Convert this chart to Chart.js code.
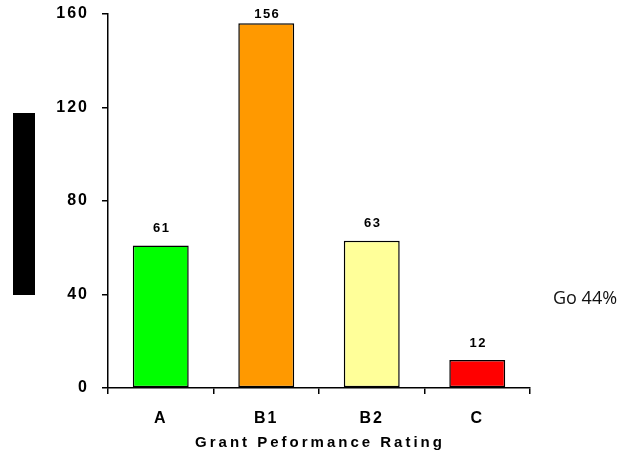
<!DOCTYPE html>
<html>
<head>
<meta charset="utf-8">
<script src="https://cdn.jsdelivr.net/npm/chart.js@4/dist/chart.umd.min.js"></script>
<style>
  html, body { margin: 0; padding: 0; background: #fff; }
  #wrap { position: relative; width: 617px; height: 458px; }
  #hidden-title { position: absolute; left: 13px; top: 113px; width: 22px; height: 182px; background: #000; }
  #note { position: absolute; left: 553px; top: 288px; font: 18px/18px "Open Sans", sans-serif; color: #111; white-space: nowrap; }
</style>
</head>
<body>
<div id="wrap">
  <canvas id="chart" width="617" height="458"></canvas>
  <div id="hidden-title"></div>
  <div id="note">Go 44%</div>
</div>
<script>
// ── DATA ───────────────────────────────────────────────────────
const categories = ['A', 'B1', 'B2', 'C'];
const counts = [61, 156, 63, 12];
const barColors = ['#00ff00', '#ff9900', '#ffff99', '#ff0000'];
const yTicks = [0, 40, 80, 120, 160];
const xTitle = 'Grant Peformance Rating';

const FONT = "'Liberation Sans', Arial, sans-serif";

// letter spacing for the axis tick labels
const spacingPlugin = {
  id: 'spacing',
  beforeDraw(chart) { chart.ctx.letterSpacing = '2px'; },
};

// value labels above each bar
const valueLabels = {
  id: 'valueLabels',
  afterDatasetsDraw(chart) {
    const { ctx, chartArea } = chart;
    const meta = chart.getDatasetMeta(0);
    ctx.save();
    ctx.letterSpacing = '1.5px';
    ctx.font = `bold 13px ${FONT}`;
    ctx.fillStyle = '#000';
    ctx.textAlign = 'center';
    ctx.textBaseline = 'middle';
    meta.data.forEach((bar, i) => {
      const y = Math.max(bar.y - 17, chartArea.top);
      ctx.fillText(String(counts[i]), bar.x + 1, y);
    });
    ctx.restore();
  },
};

// x axis title, wider tracking than the ticks
const xTitlePlugin = {
  id: 'xTitle',
  afterDraw(chart) {
    const { ctx, chartArea } = chart;
    ctx.save();
    ctx.letterSpacing = '3px';
    ctx.font = `bold 15px ${FONT}`;
    ctx.fillStyle = '#000';
    ctx.textAlign = 'center';
    ctx.textBaseline = 'middle';
    ctx.fillText(xTitle, (chartArea.left + chartArea.right) / 2 + 1, 443);
    ctx.restore();
  },
};

new Chart(document.getElementById('chart'), {
  type: 'bar',
  data: {
    labels: categories,
    datasets: [{
      data: counts,
      backgroundColor: barColors,
      borderColor: '#000',
      borderWidth: 1.5,
      borderSkipped: false,
      categoryPercentage: 1,
      barPercentage: 0.53,
    }],
  },
  options: {
    responsive: false,
    animation: false,
    devicePixelRatio: 1,
    layout: { padding: { top: 14, left: 0, right: 87, bottom: 0 } },
    plugins: {
      legend: { display: false },
      tooltip: { enabled: false },
    },
    scales: {
      x: {
        grid: { display: true, drawOnChartArea: false, drawTicks: true, tickLength: 6, color: '#000', lineWidth: 1.5, offset: true },
        border: { display: true, color: '#000', width: 1.5 },
        ticks: { color: '#000', font: { family: FONT, size: 16, weight: 'bold' }, padding: 15 },
        afterFit: s => { s.height = 70; },
      },
      y: {
        min: 0,
        max: 160,
        afterBuildTicks: s => { s.ticks = yTicks.map(v => ({ value: v })); },
        grid: { display: true, drawOnChartArea: false, drawTicks: true, tickLength: 6, color: '#000', lineWidth: 1.5 },
        border: { display: true, color: '#000', width: 1.5 },
        ticks: { color: '#000', font: { family: FONT, size: 16, weight: 'bold' }, padding: 13 },
        afterFit: s => { s.width = 108; s.paddingTop = 0; s.paddingBottom = 0; },
      },
    },
  },
  plugins: [spacingPlugin, valueLabels, xTitlePlugin],
});
</script>
</body>
</html>
